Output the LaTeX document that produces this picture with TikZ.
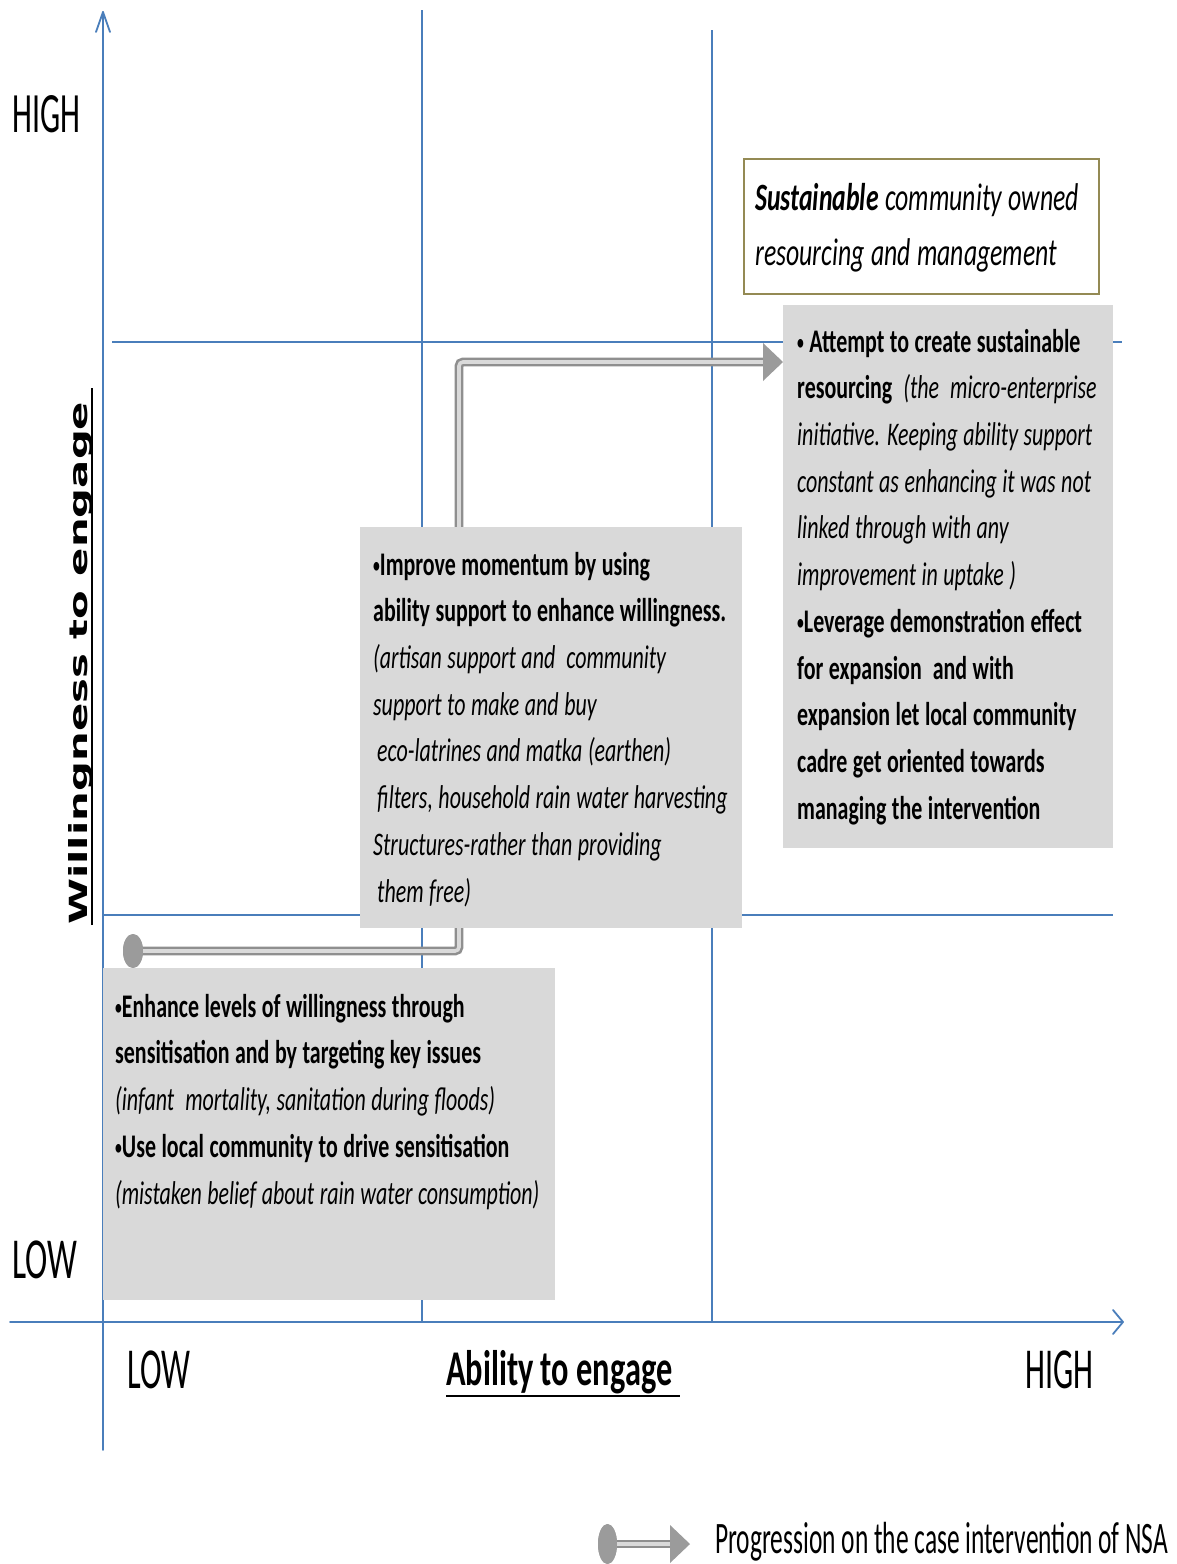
\documentclass[tikz,border=0pt]{standalone}
\usepackage{fontspec}
\usepackage{graphicx}
\usetikzlibrary{shapes.geometric}
\setmainfont{Carlito}
\newfontfamily\boxfont[FakeStretch=0.665]{Carlito}
\newfontfamily\axisfont{DejaVu Sans}
\definecolor{axisblue}{HTML}{4A7EBB}
\definecolor{boxgray}{HTML}{D9D9D9}
\definecolor{goalolive}{HTML}{948A54}
\definecolor{progdark}{HTML}{8F8F8F}
\definecolor{proglight}{HTML}{DADADA}
\definecolor{progfill}{HTML}{9B9B9B}

% single-line label squeezed to a given width, natural height kept
\newcommand{\fitlabel}[3]{\resizebox{#1}{\height}{\fontsize{#2}{#2}\selectfont #3}}
% small bullet used in the panel texts
\newcommand{\pbul}{\raisebox{3pt}{\scalebox{0.62}{•}}}
% tighter word spacing for the condensed panel text
\newcommand{\panelspacing}{\spaceskip=5.5pt\xspaceskip=7pt\relax}
\newcommand{\goalspacing}{\spaceskip=6.5pt\xspaceskip=8pt\relax}

\tikzset{
  gridline/.style={draw=axisblue, line width=1.5pt},
  axisline/.style={draw=axisblue, line width=1.8pt, line cap=round, line join=round},
  panel/.style={fill=boxgray, draw=none, anchor=north west, inner sep=0pt},
  goalbox/.style={fill=white, draw=goalolive, line width=2pt, anchor=north west, inner sep=0pt},
  boxtext/.style={anchor=north west, inner sep=0pt, align=flush left, text width=480pt,
    font=\boxfont\fontsize{33}{46.7}\selectfont},
  goaltext/.style={anchor=north west, inner sep=0pt, align=flush left, text width=400pt,
    font=\boxfont\fontsize{38.7}{55}\selectfont},
  progline/.style={draw=progdark, double=proglight, line width=2.6pt, double distance=3.6pt, rounded corners=4pt},
  progend/.style={ellipse, fill=progfill, draw=none, inner sep=0pt},
  axislabel/.style={anchor=base west, inner sep=0pt}
}

\begin{document}
\begin{tikzpicture}[x=1pt, y=-1pt]
\useasboundingbox (0,0) rectangle (1177,1564);
\fill[white] (0,0) rectangle (1177,1564);

% quadrant grid
\draw[gridline] (422,10) -- (422,1322);
\draw[gridline] (712,30) -- (712,1322);
\draw[gridline] (112,342) -- (1122,342);
\draw[gridline] (103,915) -- (1113,915);

% axes with open arrow heads
\draw[axisline] (103,1450) -- (103,12);
\draw[axisline] (96,32) -- (103,12) -- (110,32);
\draw[axisline] (10,1322) -- (1123,1322);
\draw[axisline] (1113,1310) -- (1123,1322) -- (1113,1334);

% progression path of the intervention
\node[progend, minimum width=20pt, minimum height=34pt] (origin) at (133,951) {};
\coordinate (turnA) at (459,951);
\coordinate (turnB) at (459,362);
\coordinate (headbase) at (766,362);
\draw[progline] (origin.center) -- (turnA) -- (turnB) -- (headbase);
\node[progend, minimum width=20pt, minimum height=34pt] at (origin.center) {};
\fill[progfill] (763,343) -- (783,362) -- (763,381) -- cycle;

% stage panels
\node[panel, minimum width=452pt, minimum height=332pt] (stage1) at (103,968) {};
\node[panel, minimum width=382pt, minimum height=401pt] (stage2) at (360,527) {};
\node[panel, minimum width=330pt, minimum height=543pt] (stage3) at (783,305) {};
\node[goalbox, minimum width=355pt, minimum height=135pt] (goal) at (743,158) {};

% panel texts
\node[boxtext] (txt1) at (115,984.3) {\noindent\panelspacing\strut\textbf{\pbul Enhance levels of willingness through}\\
\textbf{sensitisation and by targeting key issues}\\
\textit{(infant\ \ mortality, sanitation during floods)}\\
\textbf{\pbul Use local community to drive sensitisation}\\
\textit{(mistaken belief about rain water consumption)}};

\node[boxtext] (txt2) at (373,542.3) {\noindent\panelspacing\strut\textbf{\pbul Improve momentum by using}\\
\textbf{ability support to enhance willingness.}\\
\textit{(artisan support and\ \ community}\\
\textit{support to make and buy}\\
\hspace*{4pt}\textit{eco-latrines and matka (earthen)}\\
\hspace*{4pt}\textit{filters, household rain water\ harvesting}\\
\textit{Structures-rather than providing}\\
\hspace*{4pt}\textit{them free)}};

\node[boxtext] (txt3) at (797,319.3) {\noindent\panelspacing\strut\textbf{\pbul\ Attempt to create sustainable}\\
\textbf{resourcing}\ \ \textit{(the\ \ micro-enterprise}\\
\textit{initiative. Keeping ability support}\\
\textit{constant as enhancing it was\ not}\\
\textit{linked through with any}\\
\textit{improvement in uptake )}\\
\textbf{\pbul Leverage demonstration effect}\\
\textbf{for expansion\ \ and with}\\
\textbf{expansion let local community}\\
\textbf{cadre get oriented towards}\\
\textbf{managing the intervention}};

\node[goaltext] (goaltxt) at (755,171.5) {\noindent\goalspacing\strut\textbf{\textit{Sustainable}} \textit{community owned}\\
\textit{resourcing and management}};

% axis labels
\node[axislabel] (highW) at (12,132) {\fitlabel{68pt}{57}{HIGH}};
\node[axislabel] (lowW) at (12,1278) {\fitlabel{65pt}{58}{LOW}};
\node[axislabel] (lowA) at (127,1388) {\fitlabel{63pt}{58}{LOW}};
\node[axislabel] (highA) at (1025,1388) {\fitlabel{68pt}{58}{HIGH}};
\node[axislabel] (ability) at (446,1385) {\fitlabel{226pt}{50}{\bfseries Ability to engage}};
\draw[line width=2.5pt] (446,1396) -- (680,1396);
\node[axislabel, rotate=90] (willing) at (87.5,925) {\resizebox{523pt}{\height}{\axisfont\bfseries\fontsize{25}{25}\selectfont Willingness to engage}};
\draw[line width=2pt] (92,925) -- (92,388);

% legend
\node[progend, minimum width=19pt, minimum height=40pt] (legstart) at (607.5,1544) {};
\coordinate (legend end) at (672,1544);
\draw[progline] (legstart.center) -- (legend end);
\node[progend, minimum width=19pt, minimum height=40pt] at (legstart.center) {};
\fill[progfill] (670,1525) -- (690,1544) -- (670,1563) -- cycle;
\node[axislabel] (legtext) at (715,1553) {\fitlabel{453pt}{45}{Progression on the case intervention of NSA}};
\end{tikzpicture}
\end{document}
